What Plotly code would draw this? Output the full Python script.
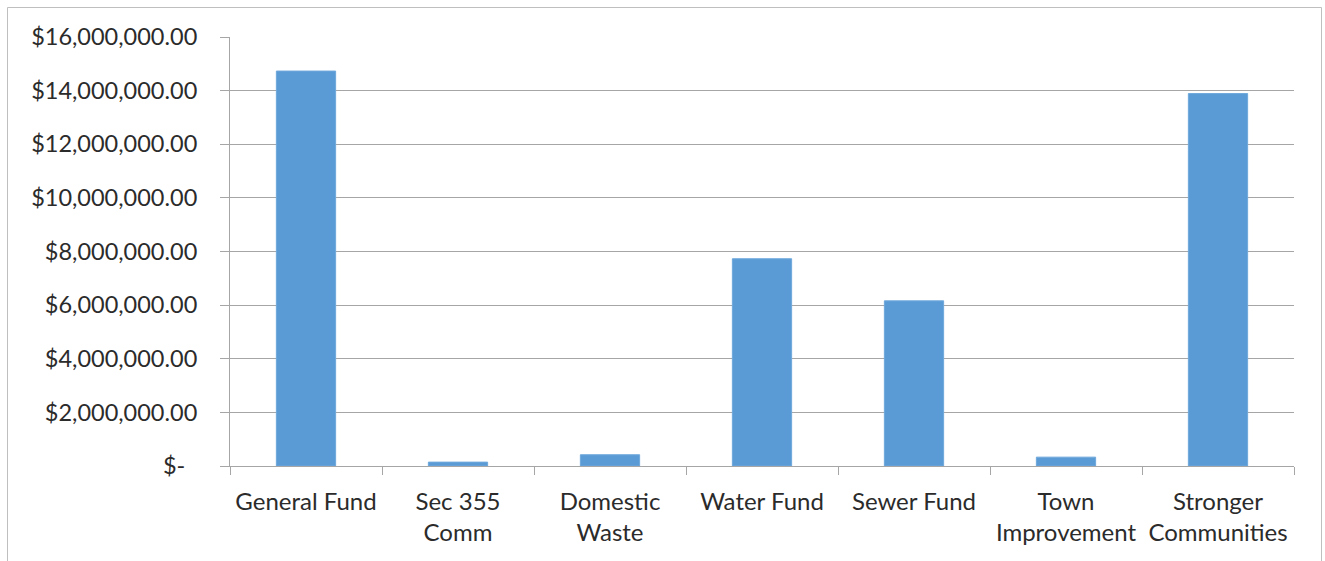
import plotly.graph_objects as go

categories = ["General Fund", "Sec 355<br>Comm", "Domestic<br>Waste", "Water Fund",
              "Sewer Fund", "Town<br>Improvement", "Stronger<br>Communities"]
values = [14730000, 145000, 420000, 7730000, 6160000, 330000, 13890000]
y_ticks = [0, 2000000, 4000000, 6000000, 8000000, 10000000, 12000000, 14000000, 16000000]
y_tick_labels = ["$-\u00a0\u00a0"] + ["${:,.2f}".format(v) for v in y_ticks[1:]]

FONT = "Lato"
TXT = "#2b2b2b"
GRID = "#a6a6a6"

fig = go.Figure(go.Bar(
    x=categories, y=values,
    marker=dict(color="#5b9bd5", line=dict(color="#6fa8dc", width=1)),
))

W, H = 1325, 561
L, R, T, B = 230, 31, 37, 95
fig.update_layout(
    width=W, height=H,
    margin=dict(l=L, r=R, t=T, b=B, pad=0),
    paper_bgcolor="white", plot_bgcolor="white",
    bargap=0.61,
    showlegend=False,
    font=dict(family=FONT, size=23, color=TXT),
)
fig.update_xaxes(
    type="category",
    tickson="boundaries",
    ticks="outside", ticklen=8, tickcolor=GRID, tickwidth=1,
    showline=True, linecolor=GRID, linewidth=1,
    showgrid=False,
    tickfont=dict(family=FONT, size=24, color=TXT),
    ticklabelstandoff=14,
)
fig.update_yaxes(
    range=[0, 16000000],
    tickvals=y_ticks, ticktext=y_tick_labels,
    ticks="outside", ticklen=9, tickcolor=GRID, tickwidth=1,
    showline=True, linecolor=GRID, linewidth=1,
    showgrid=True, gridcolor=GRID, gridwidth=1,
    zeroline=False,
    tickfont=dict(family=FONT, size=23.5, color=TXT),
    ticklabelstandoff=18,
)

pw = W - L - R
ph = H - T - B
fig.add_shape(
    type="rect", xref="paper", yref="paper",
    x0=(7.5 - L) / pw, x1=(1321.5 - L) / pw,
    y0=(H - B - 600) / ph, y1=(H - B - 7.5) / ph,
    line=dict(color="#bfbfbf", width=1), fillcolor="rgba(0,0,0,0)", layer="below",
)

fig.write_html("out.html")
